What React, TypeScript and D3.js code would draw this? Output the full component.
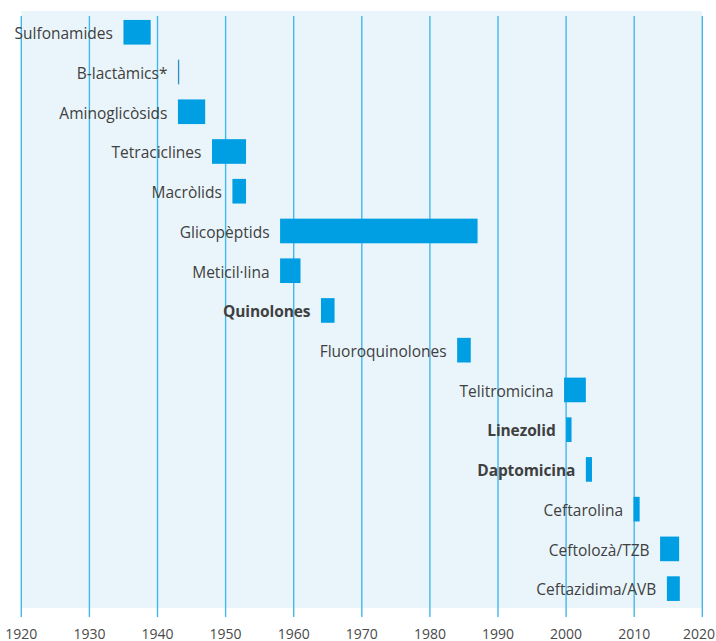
import React from "react";
import * as d3 from "d3";

const drugs = [
  "Sulfonamides",
  "B-lactàmics*",
  "Aminoglicòsids",
  "Tetraciclines",
  "Macròlids",
  "Glicopèptids",
  "Meticil·lina",
  "Quinolones",
  "Fluoroquinolones",
  "Telitromicina",
  "Linezolid",
  "Daptomicina",
  "Ceftarolina",
  "Ceftolozà/TZB",
  "Ceftazidima/AVB",
];
const startYears = [1935, 1943, 1943, 1948, 1951, 1958, 1958, 1964, 1984, 1999.7, 2000, 2002.9, 2009.9, 2013.8, 2014.8];
const endYears = [1939, 1943, 1947, 1953, 1953, 1987, 1961, 1966, 1986, 2002.9, 2000.8, 2003.8, 2010.8, 2016.6, 2016.7];
const boldNames = ["Quinolones", "Linezolid", "Daptomicina"];
const yearTicks = [1920, 1930, 1940, 1950, 1960, 1970, 1980, 1990, 2000, 2010, 2020];

const W = 716;
const H = 641;

export default function App() {
  const x = d3.scaleLinear().domain([1920, 2020]).range([21.3, 702.3]);
  const y = d3
    .scaleBand<string>()
    .domain(drugs)
    .range([12.4, 608.5])
    .paddingInner(0.38)
    .paddingOuter(0.19);

  const rows = drugs.map((name, i) => ({
    name,
    start: startYears[i],
    end: endYears[i],
    bold: boldNames.includes(name),
  }));

  const font = "'Open Sans', 'Noto Sans', sans-serif";

  return (
    <svg
      width={W}
      height={H}
      style={{ position: "absolute", left: 0, top: 0, background: "#ffffff" }}
    >
      <rect x={x(1920)} y={11} width={x(2020) - x(1920)} height={608 - 11} fill="#eaf5fb" />
      {yearTicks.map((t) => (
        <line
          key={t}
          x1={x(t)}
          x2={x(t)}
          y1={16}
          y2={617}
          stroke="#42b8ea"
          strokeWidth={1.4}
        />
      ))}
      {rows.map((r) => {
        const y0 = y(r.name)!;
        const bw = y.bandwidth();
        const x0 = x(r.start);
        const w = Math.max(1.3, x(r.end) - x0);
        return (
          <g key={r.name}>
            <rect x={x0} y={y0} width={w} height={bw} fill={w < 2 ? "#2a8fc8" : "#009fe3"} />
            <text
              x={x0 - 10.5}
              y={y0 + bw / 2 + 6.8}
              textAnchor="end"
              fontFamily={font}
              fontSize={15.5}
              fontWeight={r.bold ? 700 : 400}
              fill="#404040"
              letterSpacing={r.bold ? -0.1 : 0}
            >
              {r.name}
            </text>
          </g>
        );
      })}
      {yearTicks.map((t, i) => {
        const last = i === yearTicks.length - 1;
        return (
          <text
            key={"l" + t}
            x={last ? W - 1 : x(t)}
            y={638.5}
            textAnchor={last ? "end" : "middle"}
            fontFamily="'Liberation Sans Narrow', 'Open Sans', sans-serif"
            fontSize={14}
            fill="#4a4a4a"
          >
            {t}
          </text>
        );
      })}
    </svg>
  );
}
